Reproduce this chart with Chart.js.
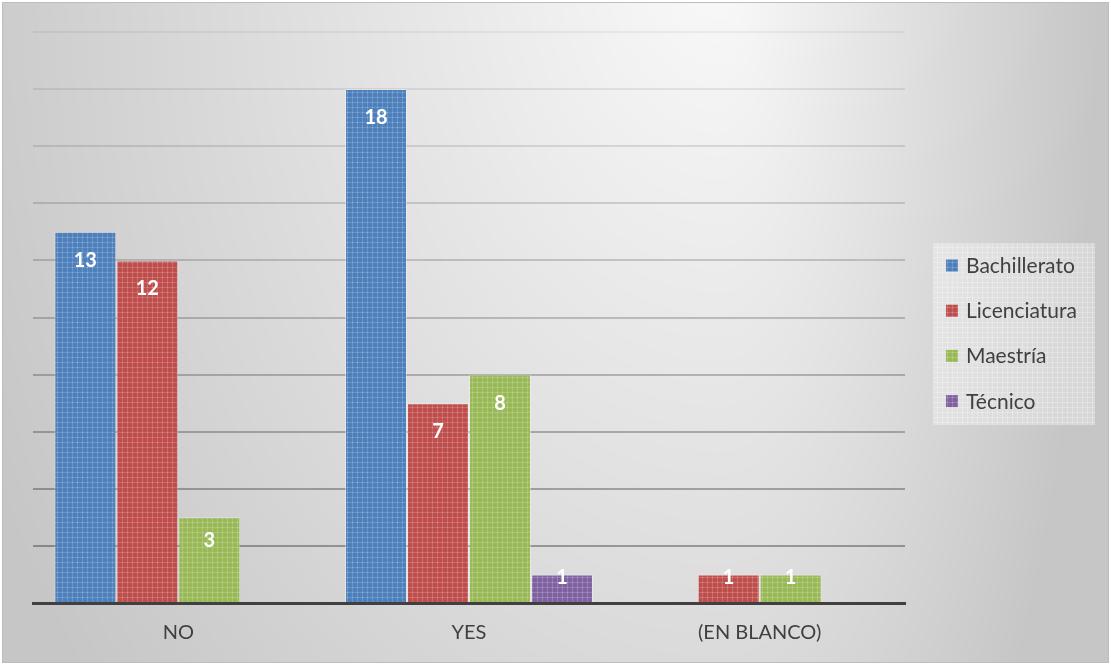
<!DOCTYPE html>
<html>
<head>
<meta charset="utf-8">
<title>Nivel de estudios</title>
<script src="https://cdn.jsdelivr.net/npm/chart.js@4.4.1/dist/chart.umd.min.js"></script>
<style>
  html, body { margin: 0; padding: 0; background: #ffffff; }
  #wrap { position: relative; width: 1111px; height: 665px; }
  #wrap canvas { position: absolute; left: 0; top: 0; }
</style>
</head>
<body>
<div id="wrap">
  <canvas id="bg" width="1111" height="665"></canvas>
  <canvas id="chart" width="1111" height="665"></canvas>
</div>
<script>
// Categories and series values
const categories = ['NO', 'YES', '(EN BLANCO)'];
const seriesNames = ['Bachillerato', 'Licenciatura', 'Maestría', 'Técnico'];
const bachillerato = [13, 18, null];
const licenciatura = [12, 7, 1];
const maestria = [3, 8, 1];
const tecnico = [null, 1, null];
const yMin = 0;
const yMax = 20;
const yStep = 2;

const seriesColors = ['#4f81bd', '#c0504d', '#9bbb59', '#8064a2'];
const FONT = 'Lato, "Open Sans", sans-serif';
const TEXT = '#404040';

// Soft grey backdrop with a bright spot near the top
(function drawBackdrop() {
  const c = document.getElementById('bg');
  const ctx = c.getContext('2d');
  const W = c.width, H = c.height;
  const img = ctx.createImageData(W, H);
  const cx = 720, cy = -60, rxL = 866, rxR = 400, ry = 1250;
  for (let y = 0; y < H; y++) {
    for (let x = 0; x < W; x++) {
      const i = (y * W + x) * 4;
      let v = 255;
      if (x >= 3 && x <= 1108 && y >= 3 && y <= 662) {
        const dx = (x - cx) / (x < cx ? rxL : rxR);
        const dy = (y - cy) / ry;
        const d = Math.sqrt(dx * dx + dy * dy);
        v = Math.max(198, 250 - 55 * d);
      }
      img.data[i] = img.data[i + 1] = img.data[i + 2] = v;
      img.data[i + 3] = 255;
    }
  }
  ctx.putImageData(img, 0, 0);
  ctx.strokeStyle = '#bdbdbd';
  ctx.lineWidth = 1;
  ctx.strokeRect(2.5, 2.5, 1106, 660);
})();

// Woven texture used for bar fills
function makePattern(hex) {
  const t = document.createElement('canvas');
  t.width = 5; t.height = 5;
  const g = t.getContext('2d');
  g.fillStyle = hex;
  g.fillRect(0, 0, 5, 5);
  g.fillStyle = 'rgba(255,255,255,0.14)';
  g.fillRect(0, 2, 5, 1);
  g.fillRect(2, 0, 1, 5);
  g.fillStyle = 'rgba(255,255,255,0.18)';
  g.fillRect(2, 2, 1, 1);
  g.fillStyle = 'rgba(0,0,0,0.05)';
  g.fillRect(0, 0, 1, 1);
  g.fillRect(4, 4, 1, 1);
  return g.createPattern(t, 'repeat');
}

const chartCtx = document.getElementById('chart').getContext('2d');
const seriesValues = [bachillerato, licenciatura, maestria, tecnico];

const datasets = seriesNames.map((name, k) => ({
  label: name,
  data: seriesValues[k],
  backgroundColor: makePattern(seriesColors[k]),
  borderColor: 'rgba(255,255,255,0.35)',
  borderWidth: 1,
  categoryPercentage: 0.853,
  barPercentage: 1.0
}));

// Value labels inside the top of each bar
const valueLabels = {
  id: 'valueLabels',
  afterDatasetsDraw(chart) {
    const ctx = chart.ctx;
    ctx.save();
    ctx.font = 'bold 20px ' + FONT;
    ctx.fillStyle = '#ffffff';
    ctx.textAlign = 'center';
    ctx.textBaseline = 'alphabetic';
    chart.data.datasets.forEach((ds, di) => {
      const meta = chart.getDatasetMeta(di);
      meta.data.forEach((bar, i) => {
        const v = ds.data[i];
        if (v === null || v === undefined) return;
        const h = bar.base - bar.y;
        const y = bar.y + Math.min(35, 0.35 * h);
        ctx.fillText(String(v), bar.x, y);
      });
    });
    ctx.restore();
  }
};

// Legend panel on the right
const sideLegend = {
  id: 'sideLegend',
  afterDraw(chart) {
    const ctx = chart.ctx;
    ctx.save();
    const bx = 933, by = 243, bw = 162, bh = 182;
    ctx.fillStyle = 'rgba(255,255,255,0.30)';
    ctx.fillRect(bx, by, bw, bh);
    const t = document.createElement('canvas');
    t.width = 5; t.height = 5;
    const g = t.getContext('2d');
    g.fillStyle = 'rgba(255,255,255,0.25)';
    g.fillRect(0, 2, 5, 1);
    g.fillRect(2, 0, 1, 5);
    ctx.fillStyle = ctx.createPattern(t, 'repeat');
    ctx.fillRect(bx, by, bw, bh);

    ctx.font = '21px ' + FONT;
    ctx.textAlign = 'left';
    ctx.textBaseline = 'alphabetic';
    chart.data.datasets.forEach((ds, k) => {
      const cy = 265.5 + k * 45.2;
      ctx.fillStyle = ds.backgroundColor;
      ctx.fillRect(946, cy - 6, 12, 12);
      ctx.fillStyle = TEXT;
      ctx.fillText(ds.label, 966, cy + 7.5);
    });
    ctx.restore();
  }
};

new Chart(chartCtx, {
  type: 'bar',
  data: { labels: categories, datasets: datasets },
  options: {
    responsive: false,
    animation: false,
    devicePixelRatio: 1,
    layout: { padding: { left: 33, right: 206, top: 32, bottom: 0 } },
    plugins: {
      legend: { display: false },
      tooltip: { enabled: false }
    },
    scales: {
      x: {
        z: 1,
        grid: { display: false, drawTicks: false },
        border: { display: true, color: '#404040', width: 3 },
        ticks: { color: TEXT, font: { family: FONT, size: 20 }, padding: 18 },
        afterFit(s) { s.height = 62; }
      },
      y: {
        min: yMin,
        max: yMax,
        ticks: { display: false, stepSize: yStep },
        grid: {
          drawTicks: false,
          lineWidth: 2,
          color(c) {
            const v = c.tick ? c.tick.value : 0;
            const a = 0.05 + 0.30 * (1 - v / yMax);
            return 'rgba(0,0,0,' + a.toFixed(3) + ')';
          }
        },
        border: { display: false },
        afterFit(s) { s.width = 0; }
      }
    }
  },
  plugins: [valueLabels, sideLegend]
});
</script>
</body>
</html>
